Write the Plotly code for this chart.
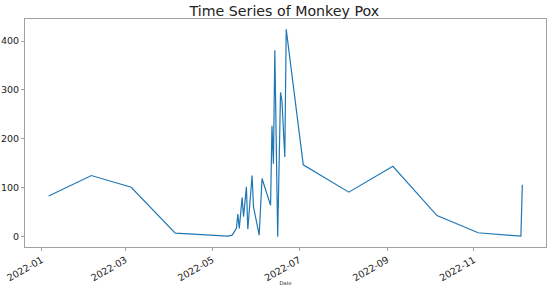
import pandas as pd
import plotly.graph_objects as go

# dates and case counts
dates = [
    "2022-01-06", "2022-02-05", "2022-03-05", "2022-04-05",
    "2022-05-12", "2022-05-15", "2022-05-18", "2022-05-19", "2022-05-20",
    "2022-05-22", "2022-05-23", "2022-05-25", "2022-05-26", "2022-05-29",
    "2022-05-30", "2022-06-03", "2022-06-05", "2022-06-11", "2022-06-12",
    "2022-06-13", "2022-06-14", "2022-06-16", "2022-06-18", "2022-06-19",
    "2022-06-21", "2022-06-22", "2022-07-04", "2022-08-05", "2022-09-05",
    "2022-10-06", "2022-11-04", "2022-12-04", "2022-12-05",
]
cases = [
    83, 125, 101, 7,
    1, 3, 17, 46, 17,
    80, 41, 102, 15, 125,
    61, 3, 119, 64, 227,
    149, 381, 0, 295, 278,
    163, 424, 147, 91, 144,
    43, 8, 1, 106,
]

df = pd.DataFrame({"Date": pd.to_datetime(dates), "cases": cases})

# matplotlib-style 5% padding around the data
x_pad = (df["Date"].max() - df["Date"].min()) * 0.05
y_pad = (df["cases"].max() - df["cases"].min()) * 0.05
x_range = [df["Date"].min() - x_pad, df["Date"].max() + x_pad]
y_range = [df["cases"].min() - y_pad, df["cases"].max() + y_pad]

fig = go.Figure()
fig.add_trace(go.Scatter(x=df["Date"], y=df["cases"], mode="lines",
                         line=dict(color="#1f77b4", width=1.2)))

axis_style = dict(showline=True, mirror=True, linecolor="#a0a0a0", linewidth=1,
                  showgrid=False, zeroline=False, ticks="outside", ticklen=3,
                  tickcolor="#a0a0a0", automargin=False,
                  tickfont=dict(size=9.5, color="#222"))

fig.update_layout(
    width=550, height=286,
    margin=dict(l=25, r=4, t=19, b=39),
    paper_bgcolor="white", plot_bgcolor="white",
    font=dict(family="DejaVu Sans"),
    showlegend=False,
    title=dict(text="Time Series of Monkey Pox", x=0.517, xanchor="center",
               y=0.96, yanchor="middle", automargin=False,
               font=dict(size=14.2, color="#222")),
)
fig.update_xaxes(range=x_range, tickformat="%Y-%m", dtick="M2",
                 tick0="2022-01-01", tickangle=-30,
                 title=dict(text="Date", font=dict(size=5, color="#222"), standoff=0),
                 **axis_style)
fig.update_yaxes(range=y_range, dtick=100, tick0=0, **axis_style)

# drop the browser's default 8px body margin so the figure fills the window
fig.write_html("out.html", config={"displayModeBar": False},
               post_script="document.body.style.margin = '0';")
